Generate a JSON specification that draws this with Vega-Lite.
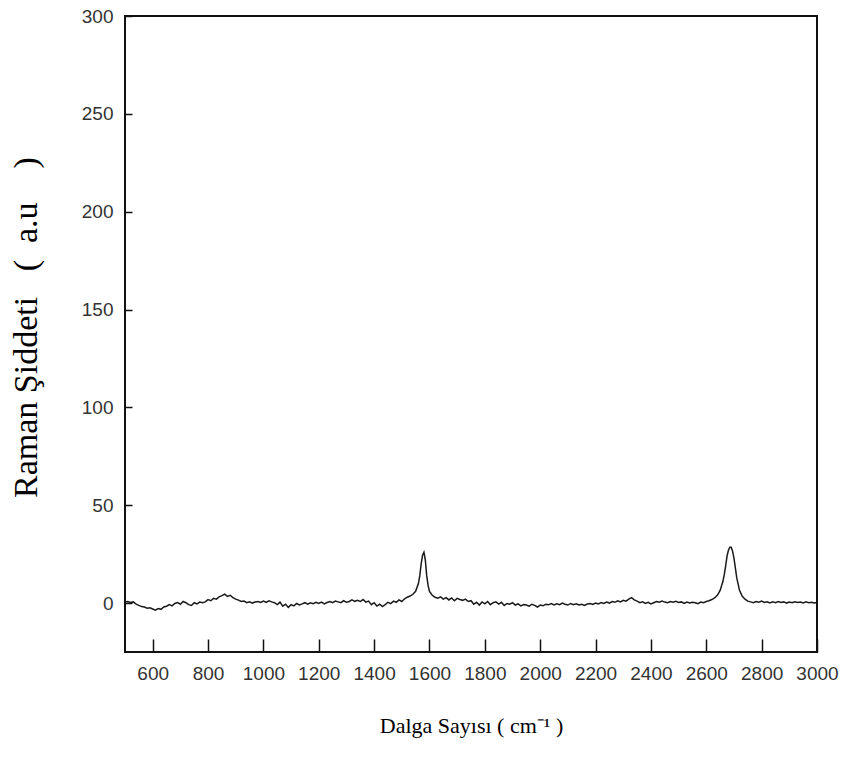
{
  "$schema": "https://vega.github.io/schema/vega-lite/v6.json",
  "autosize": "none",
  "width": 692,
  "height": 636,
  "padding": {"left": 125, "top": 16, "right": 28, "bottom": 108},
  "background": "white",
  "config": {
    "view": {"stroke": "#111", "strokeWidth": 2},
    "axis": {"grid": false, "domain": false, "tickColor": "#111", "tickWidth": 1.5, "labelFont": "Liberation Sans", "labelFontSize": 19, "labelColor": "#333", "titleFont": "Liberation Serif", "titleFontWeight": "normal", "titleColor": "#000"}
  },
  "data": {"values": [
    {"x":500,"y":0.5},{"x":510,"y":0.8},{"x":520,"y":0.3},{"x":530,"y":0.6},{"x":540,"y":-0.5},{"x":550,"y":-1.2},{"x":560,"y":-1.8},{"x":570,"y":-2.0},{"x":580,"y":-2.6},{"x":590,"y":-2.4},
    {"x":600,"y":-3.0},{"x":610,"y":-3.6},{"x":620,"y":-2.8},{"x":630,"y":-3.2},{"x":640,"y":-2.0},{"x":650,"y":-1.6},{"x":660,"y":-0.8},{"x":670,"y":-1.4},{"x":680,"y":-0.2},{"x":690,"y":0.3},
    {"x":700,"y":-0.6},{"x":710,"y":0.8},{"x":720,"y":0.2},{"x":730,"y":-0.8},{"x":740,"y":-1.2},{"x":750,"y":0.2},{"x":760,"y":-0.4},{"x":770,"y":0.5},{"x":780,"y":0.2},{"x":790,"y":0.6},
    {"x":800,"y":1.8},{"x":810,"y":1.2},{"x":820,"y":2.4},{"x":830,"y":2.0},{"x":840,"y":3.2},{"x":850,"y":3.8},{"x":860,"y":4.6},{"x":870,"y":3.4},{"x":880,"y":4.0},{"x":890,"y":2.8},
    {"x":900,"y":2.0},{"x":910,"y":1.5},{"x":920,"y":0.8},{"x":930,"y":1.0},{"x":940,"y":0.2},{"x":950,"y":0.6},{"x":960,"y":0.0},{"x":970,"y":0.5},{"x":980,"y":0.8},{"x":990,"y":0.3},
    {"x":1000,"y":1.0},{"x":1010,"y":0.4},{"x":1020,"y":1.2},{"x":1030,"y":0.6},{"x":1040,"y":0.2},{"x":1050,"y":-0.8},{"x":1060,"y":0.5},{"x":1070,"y":-1.6},{"x":1080,"y":-0.6},{"x":1090,"y":-2.2},
    {"x":1100,"y":-0.8},{"x":1110,"y":-1.4},{"x":1120,"y":-0.2},{"x":1130,"y":-0.9},{"x":1140,"y":-0.4},{"x":1150,"y":0.2},{"x":1160,"y":-0.6},{"x":1170,"y":0.1},{"x":1180,"y":-0.3},{"x":1190,"y":0.4},
    {"x":1200,"y":-0.2},{"x":1210,"y":0.5},{"x":1220,"y":-0.4},{"x":1230,"y":0.3},{"x":1240,"y":0.8},{"x":1250,"y":0.2},{"x":1260,"y":1.0},{"x":1270,"y":0.6},{"x":1280,"y":0.2},{"x":1290,"y":1.2},
    {"x":1300,"y":0.4},{"x":1310,"y":0.8},{"x":1320,"y":1.6},{"x":1330,"y":0.9},{"x":1340,"y":1.4},{"x":1350,"y":0.8},{"x":1360,"y":1.8},{"x":1370,"y":0.5},{"x":1380,"y":1.0},{"x":1390,"y":-0.8},
    {"x":1400,"y":0.2},{"x":1410,"y":-1.5},{"x":1420,"y":-0.6},{"x":1430,"y":-1.8},{"x":1440,"y":-0.8},{"x":1450,"y":0.4},{"x":1460,"y":-0.3},{"x":1470,"y":1.0},{"x":1480,"y":0.4},{"x":1490,"y":1.6},
    {"x":1500,"y":0.8},{"x":1510,"y":2.2},{"x":1520,"y":3.0},{"x":1530,"y":3.6},{"x":1540,"y":4.5},{"x":1550,"y":6.0},{"x":1560,"y":10.0},{"x":1565,"y":14.0},{"x":1570,"y":20.0},{"x":1575,"y":24.5},
    {"x":1580,"y":26.0},{"x":1585,"y":22.0},{"x":1590,"y":14.0},{"x":1595,"y":9.0},{"x":1600,"y":6.0},{"x":1610,"y":4.0},{"x":1620,"y":3.0},{"x":1630,"y":2.5},{"x":1640,"y":3.2},{"x":1650,"y":2.0},
    {"x":1660,"y":2.8},{"x":1670,"y":1.6},{"x":1680,"y":2.6},{"x":1690,"y":1.2},{"x":1700,"y":2.4},{"x":1710,"y":1.8},{"x":1720,"y":1.4},{"x":1730,"y":2.0},{"x":1740,"y":0.8},{"x":1750,"y":1.2},
    {"x":1760,"y":-0.6},{"x":1770,"y":0.4},{"x":1780,"y":-1.0},{"x":1790,"y":0.6},{"x":1800,"y":-0.4},{"x":1810,"y":0.8},{"x":1820,"y":-0.8},{"x":1830,"y":0.2},{"x":1840,"y":0.6},{"x":1850,"y":-0.5},
    {"x":1860,"y":0.4},{"x":1870,"y":-1.2},{"x":1880,"y":-0.2},{"x":1890,"y":-0.6},{"x":1900,"y":0.2},{"x":1910,"y":-1.0},{"x":1920,"y":-0.4},{"x":1930,"y":-1.4},{"x":1940,"y":-0.8},{"x":1950,"y":-1.0},
    {"x":1960,"y":-1.6},{"x":1970,"y":-0.6},{"x":1980,"y":-1.2},{"x":1990,"y":-2.0},{"x":2000,"y":-1.0},{"x":2010,"y":-1.4},{"x":2020,"y":-0.6},{"x":2030,"y":-0.9},{"x":2040,"y":-0.3},{"x":2050,"y":-1.0},
    {"x":2060,"y":-0.4},{"x":2070,"y":-0.8},{"x":2080,"y":0.0},{"x":2090,"y":-0.6},{"x":2100,"y":-1.0},{"x":2110,"y":-0.2},{"x":2120,"y":-0.8},{"x":2130,"y":-0.4},{"x":2140,"y":-1.0},{"x":2150,"y":-0.6},
    {"x":2160,"y":-1.2},{"x":2170,"y":-0.5},{"x":2180,"y":-0.2},{"x":2190,"y":-0.7},{"x":2200,"y":0.0},{"x":2210,"y":-0.4},{"x":2220,"y":0.3},{"x":2230,"y":-0.2},{"x":2240,"y":0.5},{"x":2250,"y":0.0},
    {"x":2260,"y":0.8},{"x":2270,"y":0.4},{"x":2280,"y":1.2},{"x":2290,"y":0.6},{"x":2300,"y":1.4},{"x":2310,"y":1.0},{"x":2320,"y":2.0},{"x":2330,"y":2.8},{"x":2340,"y":1.6},{"x":2350,"y":1.0},
    {"x":2360,"y":0.2},{"x":2370,"y":0.6},{"x":2380,"y":-0.2},{"x":2390,"y":0.4},{"x":2400,"y":-0.4},{"x":2410,"y":0.2},{"x":2420,"y":0.8},{"x":2430,"y":0.4},{"x":2440,"y":1.0},{"x":2450,"y":0.5},
    {"x":2460,"y":0.2},{"x":2470,"y":0.8},{"x":2480,"y":0.4},{"x":2490,"y":0.9},{"x":2500,"y":0.3},{"x":2510,"y":0.6},{"x":2520,"y":-0.2},{"x":2530,"y":0.5},{"x":2540,"y":0.0},{"x":2550,"y":0.4},
    {"x":2560,"y":0.2},{"x":2570,"y":-0.3},{"x":2580,"y":0.5},{"x":2590,"y":0.2},{"x":2600,"y":0.8},{"x":2610,"y":1.2},{"x":2620,"y":1.8},{"x":2630,"y":2.6},{"x":2640,"y":4.0},{"x":2650,"y":6.5},
    {"x":2660,"y":11.0},{"x":2665,"y":14.5},{"x":2670,"y":19.0},{"x":2675,"y":24.0},{"x":2680,"y":27.0},{"x":2685,"y":28.5},{"x":2690,"y":28.5},{"x":2695,"y":26.5},{"x":2700,"y":23.0},{"x":2705,"y":18.0},
    {"x":2710,"y":13.0},{"x":2720,"y":6.5},{"x":2730,"y":3.5},{"x":2740,"y":2.0},{"x":2750,"y":1.0},{"x":2760,"y":0.6},{"x":2770,"y":0.2},{"x":2780,"y":0.8},{"x":2790,"y":0.4},{"x":2800,"y":1.0},
    {"x":2810,"y":0.3},{"x":2820,"y":0.7},{"x":2830,"y":0.1},{"x":2840,"y":0.6},{"x":2850,"y":0.2},{"x":2860,"y":0.8},{"x":2870,"y":0.3},{"x":2880,"y":0.6},{"x":2890,"y":0.0},{"x":2900,"y":0.5},
    {"x":2910,"y":0.2},{"x":2920,"y":0.7},{"x":2930,"y":0.3},{"x":2940,"y":0.5},{"x":2950,"y":0.1},{"x":2960,"y":0.6},{"x":2970,"y":0.2},{"x":2980,"y":0.4},{"x":2990,"y":0.0},{"x":3000,"y":0.3}
  ]},
  "mark": {"type": "line", "color": "#1a1a1a", "strokeWidth": 1.5, "clip": true},
  "encoding": {
    "x": {"field": "x", "type": "quantitative", "scale": {"domain": [500, 3000], "nice": false, "zero": false},
      "axis": {"values": [600,800,1000,1200,1400,1600,1800,2000,2200,2400,2600,2800,3000], "format": "d", "tickSize": -13, "labelPadding": 25, "labelFlush": false, "labelOverlap": false, "title": "Dalga Sayısı ( cm⁻¹ )", "titleFontSize": 22, "titlePadding": 32}},
    "y": {"field": "y", "type": "quantitative", "scale": {"domain": [-25, 300], "nice": false, "zero": false},
      "axis": {"values": [0,50,100,150,200,250,300], "format": "d", "tickSize": -7, "labelPadding": 19, "labelFlush": false, "labelOverlap": false, "title": "Raman\u00a0Şiddeti\u00a0\u00a0\u00a0(\u00a0\u00a0a.u\u00a0\u00a0\u00a0\u00a0)", "titleFontSize": 34, "titleX": -99, "titleY": 311, "titleBaseline": "middle", "titleAlign": "center", "titleAngle": -90}}
  }
}
